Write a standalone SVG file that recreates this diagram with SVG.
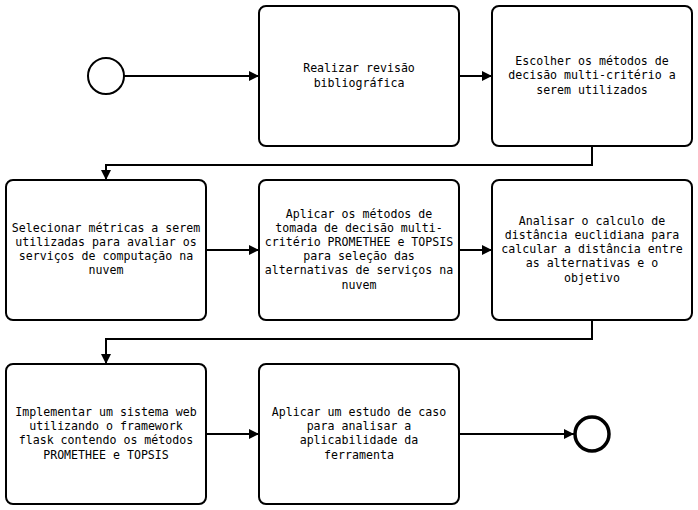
<svg xmlns="http://www.w3.org/2000/svg" width="698" height="510" viewBox="0 0 698 510">
<style>
.box{fill:#fff;stroke:#000;stroke-width:2}
.t{font-family:"DejaVu Sans Mono",monospace;font-size:11.6px;fill:#000;text-anchor:middle}
.c{fill:none;stroke:#000;stroke-width:2}
</style>
<defs>
<marker id="a" viewBox="0 0 10 10" refX="10" refY="5" markerWidth="5" markerHeight="5" orient="auto" markerUnits="strokeWidth">
<path d="M0,0 L10,5 L0,10 Z" fill="#000"/>
</marker>
</defs>
<rect width="698" height="510" fill="#fff"/>
<g id="connectors">
<path class="c" d="M124,76 H259" marker-end="url(#a)"/>
<path class="c" d="M459,76 H492" marker-end="url(#a)"/>
<path class="c" d="M592,146 V165 H106 V180" marker-end="url(#a)"/>
<path class="c" d="M206,250 H259" marker-end="url(#a)"/>
<path class="c" d="M459,250 H492" marker-end="url(#a)"/>
<path class="c" d="M592,320 V339 H106 V364" marker-end="url(#a)"/>
<path class="c" d="M206,434 H259" marker-end="url(#a)"/>
<path class="c" d="M459,434 H574" marker-end="url(#a)"/>
</g>
<g id="start"><circle cx="106" cy="76" r="18" fill="#fff" stroke="#000" stroke-width="2"/></g>
<g id="n1"><rect class="box" x="259" y="6" width="200" height="140" rx="7"/>
<text class="t"><tspan x="359" y="72">Realizar revisão</tspan><tspan x="359" y="87">bibliográfica</tspan></text></g>
<g id="n2"><rect class="box" x="492" y="6" width="200" height="140" rx="7"/>
<text class="t"><tspan x="592" y="65">Escolher os métodos de</tspan><tspan x="592" y="79">decisão multi-critério a</tspan><tspan x="592" y="94">serem utilizados</tspan></text></g>
<g id="n3"><rect class="box" x="6" y="180" width="200" height="140" rx="7"/>
<text class="t"><tspan x="106" y="232">Selecionar métricas a serem</tspan><tspan x="106" y="246">utilizadas para avaliar os</tspan><tspan x="106" y="260">serviços de computação na</tspan><tspan x="106" y="274">nuvem</tspan></text></g>
<g id="n4"><rect class="box" x="259" y="180" width="200" height="140" rx="7"/>
<text class="t"><tspan x="359" y="218">Aplicar os métodos de</tspan><tspan x="359" y="232">tomada de decisão multi-</tspan><tspan x="359" y="246">critério PROMETHEE e TOPSIS</tspan><tspan x="359" y="260">para seleção das</tspan><tspan x="359" y="274">alternativas de serviços na</tspan><tspan x="359" y="289">nuvem</tspan></text></g>
<g id="n5"><rect class="box" x="492" y="180" width="200" height="140" rx="7"/>
<text class="t"><tspan x="592" y="225">Analisar o calculo de</tspan><tspan x="592" y="239">distância euclidiana para</tspan><tspan x="592" y="253">calcular a distância entre</tspan><tspan x="592" y="267">as alternativas e o</tspan><tspan x="592" y="282">objetivo</tspan></text></g>
<g id="n6"><rect class="box" x="6" y="364" width="200" height="140" rx="7"/>
<text class="t"><tspan x="106" y="416">Implementar um sistema web</tspan><tspan x="106" y="430">utilizando o framework</tspan><tspan x="106" y="444">flask contendo os métodos</tspan><tspan x="106" y="459">PROMETHEE e TOPSIS</tspan></text></g>
<g id="n7"><rect class="box" x="259" y="364" width="200" height="140" rx="7"/>
<text class="t"><tspan x="359" y="416">Aplicar um estudo de caso</tspan><tspan x="359" y="430">para analisar a</tspan><tspan x="359" y="444">aplicabilidade da</tspan><tspan x="359" y="459">ferramenta</tspan></text></g>
<g id="end"><circle cx="592" cy="434" r="17" fill="#fff" stroke="#000" stroke-width="3.5"/></g>
</svg>
